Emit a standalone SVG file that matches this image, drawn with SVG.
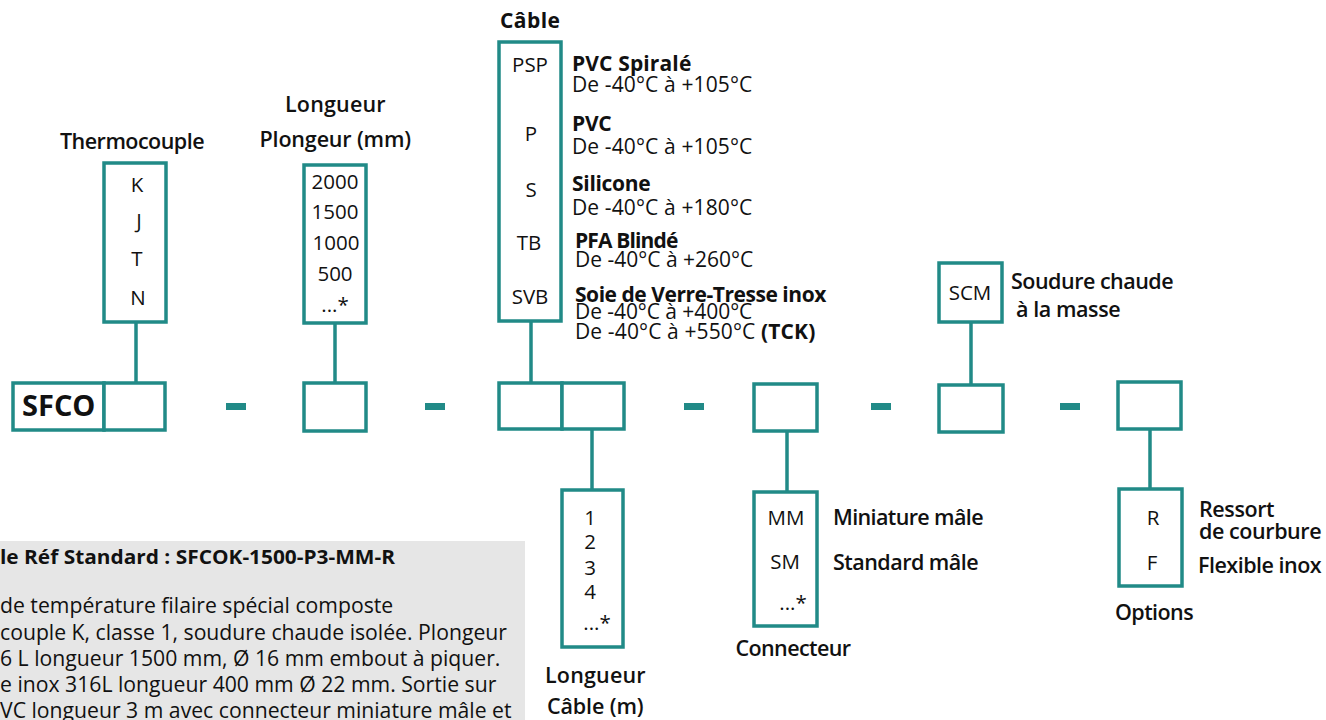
<svg xmlns="http://www.w3.org/2000/svg" width="1326" height="720" viewBox="0 0 1326 720">
<style>
.b{fill:#fff;stroke:#218a87;stroke-width:3.5}
.c{stroke:#218a87;stroke-width:3.5;fill:none}
.d{fill:#218a87}
text{font-family:"Open Sans","Liberation Sans",sans-serif;fill:#111}
.it{font-size:20.5px;text-anchor:middle}
.lb{font-size:21.5px;font-weight:600;letter-spacing:-0.6px}
.lbm{font-size:21.5px;font-weight:600;letter-spacing:-0.6px;text-anchor:middle}
.bd{font-size:21px;font-weight:700;letter-spacing:-0.3px}
.rg{font-size:21px;letter-spacing:-0.3px}
.gx{font-size:21.2px}
</style>
<rect x="0" y="541" width="525" height="179" fill="#e6e6e6"/>
<g id="example">
<text x="0" y="564" style="font-size:20px;font-weight:700" textLength="395" lengthAdjust="spacingAndGlyphs">le Réf Standard : SFCOK-1500-P3-MM-R</text>
<text class="gx" x="0" y="613">de température filaire spécial composte</text>
<text class="gx" x="0" y="640">couple K, classe 1, soudure chaude isolée. Plongeur</text>
<text class="gx" x="0" y="666">6 L longueur 1500 mm, Ø 16 mm embout à piquer.</text>
<text class="gx" x="0" y="692">e inox 316L longueur 400 mm Ø 22 mm. Sortie sur</text>
<text class="gx" x="0" y="718">VC longueur 3 m avec connecteur miniature mâle et</text>
</g>
<g id="connectors">
<line class="c" x1="136" y1="322" x2="136" y2="383"/>
<line class="c" x1="335" y1="323" x2="335" y2="383"/>
<line class="c" x1="531" y1="321" x2="531" y2="383"/>
<line class="c" x1="592" y1="429" x2="592" y2="490"/>
<line class="c" x1="787" y1="431" x2="787" y2="492"/>
<line class="c" x1="971" y1="322" x2="971" y2="385"/>
<line class="c" x1="1150" y1="429" x2="1150" y2="489"/>
<rect class="d" x="226" y="403" width="20" height="7"/>
<rect class="d" x="425" y="403" width="20" height="7"/>
<rect class="d" x="684" y="403" width="20" height="7"/>
<rect class="d" x="871" y="403" width="20" height="7"/>
<rect class="d" x="1060" y="403" width="20" height="7"/>
</g>
<g id="sfco">
<rect class="b" x="13" y="383" width="91" height="47"/>
<rect class="b" x="104" y="383" width="61" height="47"/>
<text x="22" y="416" style="font-size:29px;font-weight:700">SFCO</text>
</g>
<g id="thermocouple">
<text class="lbm" x="132" y="149" textLength="144">Thermocouple</text>
<rect class="b" x="104" y="163" width="62" height="159"/>
<text class="it" x="137" y="192">K</text>
<text class="it" x="139" y="228">J</text>
<text class="it" x="137" y="266">T</text>
<text class="it" x="138" y="305">N</text>
</g>
<g id="plongeur">
<text class="lbm" x="335" y="112" textLength="100">Longueur</text>
<text class="lbm" x="335" y="147" textLength="151">Plongeur (mm)</text>
<rect class="b" x="304" y="165" width="62" height="158"/>
<text class="it" x="335" y="189">2000</text>
<text class="it" x="335" y="219">1500</text>
<text class="it" x="336" y="250">1000</text>
<text class="it" x="335" y="281">500</text>
<text class="it" x="335" y="312">...*</text>
<rect class="b" x="304" y="383" width="62" height="48"/>
</g>
<g id="cable">
<text x="530" y="28" style="font-size:21px;font-weight:700;text-anchor:middle" textLength="60">Câble</text>
<rect class="b" x="499" y="42" width="62" height="279"/>
<text class="it" x="530" y="72">PSP</text>
<text class="it" x="531" y="141">P</text>
<text class="it" x="531" y="197">S</text>
<text class="it" x="529" y="250">TB</text>
<text class="it" x="530" y="304">SVB</text>
<text class="bd" x="572" y="71" textLength="119">PVC Spiralé</text>
<text class="rg" x="572" y="92" textLength="180">De -40°C à +105°C</text>
<text class="bd" x="572" y="131">PVC</text>
<text class="rg" x="572" y="154" textLength="180">De -40°C à +105°C</text>
<text class="bd" x="572" y="191">Silicone</text>
<text class="rg" x="572" y="215" textLength="180">De -40°C à +180°C</text>
<text class="bd" x="575" y="248" textLength="103">PFA Blindé</text>
<text class="rg" x="575" y="267" textLength="178">De -40°C à +260°C</text>
<text class="bd" x="575" y="302" textLength="251">Soie de Verre-Tresse inox</text>
<text class="rg" x="575" y="319" textLength="177">De -40°C à +400°C</text>
<text class="rg" x="575" y="339" textLength="240">De -40°C à +550°C <tspan style="font-weight:700">(TCK)</tspan></text>
<rect class="b" x="499" y="383" width="63" height="46"/>
</g>
<g id="longueur-cable">
<rect class="b" x="562" y="383" width="62" height="46"/>
<rect class="b" x="562" y="490" width="61" height="157"/>
<text class="it" x="590" y="525">1</text>
<text class="it" x="590" y="549">2</text>
<text class="it" x="590" y="575">3</text>
<text class="it" x="590" y="599">4</text>
<text class="it" x="597" y="630">...*</text>
<text class="lbm" x="595" y="683" textLength="100">Longueur</text>
<text class="lbm" x="595" y="714" textLength="96">Câble (m)</text>
</g>
<g id="connecteur">
<rect class="b" x="754" y="384" width="63" height="47"/>
<rect class="b" x="754" y="492" width="63" height="134"/>
<text class="it" x="786" y="525">MM</text>
<text class="it" x="785" y="569">SM</text>
<text class="it" x="793" y="610">...*</text>
<text class="lb" x="833" y="525" textLength="150">Miniature mâle</text>
<text class="lb" x="833" y="570" textLength="145">Standard mâle</text>
<text class="lbm" x="793" y="656" textLength="115">Connecteur</text>
</g>
<g id="scm">
<rect class="b" x="939" y="263" width="63" height="59"/>
<text class="it" x="970" y="300">SCM</text>
<text class="lb" x="1011" y="289" textLength="162">Soudure chaude</text>
<text class="lb" x="1016" y="317" textLength="104">à la masse</text>
<rect class="b" x="939" y="385" width="64" height="47"/>
</g>
<g id="options">
<rect class="b" x="1118" y="382" width="63" height="47"/>
<rect class="b" x="1119" y="489" width="63" height="97"/>
<text class="it" x="1153" y="525">R</text>
<text class="it" x="1152" y="570">F</text>
<text class="lb" x="1199" y="517" textLength="75">Ressort</text>
<text class="lb" x="1199" y="539" textLength="122">de courbure</text>
<text class="lb" x="1198" y="573" textLength="123">Flexible inox</text>
<text class="lbm" x="1154" y="620" textLength="78">Options</text>
</g>
</svg>
